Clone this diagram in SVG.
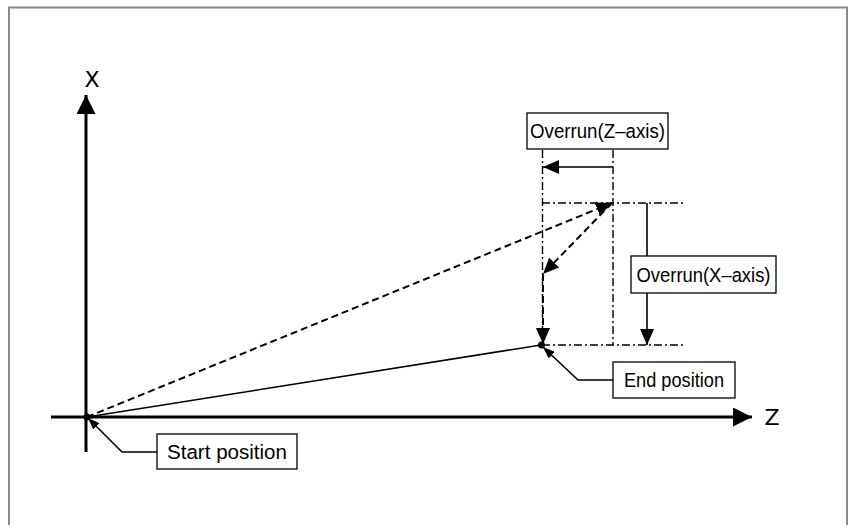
<svg xmlns="http://www.w3.org/2000/svg" width="848" height="525" viewBox="0 0 848 525">
<style>
.box{fill:#fff;stroke:#000;stroke-width:1.3}
.lbl{font-family:"Liberation Sans",Arial,sans-serif;font-size:20.5px;fill:#000;text-anchor:middle}
.ax{font-family:"DejaVu Sans","Liberation Sans",sans-serif;font-size:22px;fill:#000;text-anchor:middle}
.axis{stroke:#000;stroke-width:3;fill:none}
.solid{stroke:#000;stroke-width:1.6;fill:none}
.dash{stroke:#000;stroke-width:2;fill:none;stroke-dasharray:7 4}
.dd{stroke:#000;stroke-width:1.4;fill:none;stroke-dasharray:8 3 2 3}
</style>
<defs>
<marker id="big" viewBox="0 0 19 19" refX="19" refY="9.5" markerWidth="19" markerHeight="19" markerUnits="userSpaceOnUse" orient="auto"><path d="M0,0 L19,9.5 L0,19 z" fill="#000"/></marker>
<marker id="mid" viewBox="0 0 16 14" refX="16" refY="7" markerWidth="16" markerHeight="14" markerUnits="userSpaceOnUse" orient="auto"><path d="M0,0 L16,7 L0,14 z" fill="#000"/></marker>
<marker id="sm" viewBox="0 0 12 9" refX="12" refY="4.5" markerWidth="12" markerHeight="9" markerUnits="userSpaceOnUse" orient="auto"><path d="M0,0 L12,4.5 L0,9 z" fill="#000"/></marker>
</defs>
<rect x="9" y="7.5" width="838" height="530" fill="#fff" stroke="#888" stroke-width="2"/>
<g id="connectors">
<line class="axis" x1="86" y1="452" x2="86" y2="95" marker-end="url(#big)"/>
<line class="axis" x1="51" y1="417" x2="752" y2="417" marker-end="url(#big)"/>
<line class="dd" x1="542.5" y1="150" x2="542.5" y2="345"/>
<line class="dd" x1="613" y1="150" x2="613" y2="345"/>
<line class="dd" x1="542" y1="203" x2="684" y2="203"/>
<line class="dd" x1="542" y1="345" x2="684" y2="345"/>
<line class="solid" x1="87" y1="417" x2="541" y2="345"/>
<line class="dash" x1="87" y1="417" x2="612" y2="203" marker-end="url(#mid)"/>
<line class="dash" x1="612" y1="203" x2="543" y2="274" marker-end="url(#mid)"/>
<line class="dash" x1="543" y1="274" x2="543" y2="344" marker-end="url(#mid)"/>
<line class="solid" x1="613" y1="167" x2="543" y2="167" marker-end="url(#mid)"/>
<line class="solid" x1="647" y1="203" x2="647" y2="256"/>
<line class="solid" x1="647" y1="293" x2="647" y2="345" marker-end="url(#mid)"/>
<polyline class="solid" points="157,452 122,452 88,418" marker-end="url(#sm)"/>
<polyline class="solid" points="613,380 578,380 543,347" marker-end="url(#sm)"/>
<circle cx="87" cy="417" r="3.5" fill="#000"/>
<circle cx="541.5" cy="345" r="3.5" fill="#000"/>
</g>
<g id="axis-x"><text class="ax" x="92" y="87">X</text></g>
<g id="axis-z"><text class="ax" x="772" y="425">Z</text></g>
<g id="overrun-z"><rect class="box" x="527" y="113" width="141" height="36"/><text class="lbl" x="597.5" y="138" textLength="135" lengthAdjust="spacingAndGlyphs">Overrun(Z–axis)</text></g>
<g id="overrun-x"><rect class="box" x="631" y="256" width="145" height="37"/><text class="lbl" x="703.5" y="281.5" textLength="134" lengthAdjust="spacingAndGlyphs">Overrun(X–axis)</text></g>
<g id="end-position"><rect class="box" x="613" y="362" width="122" height="36"/><text class="lbl" x="674" y="387" textLength="100" lengthAdjust="spacingAndGlyphs">End position</text></g>
<g id="start-position"><rect class="box" x="157" y="434" width="140" height="35"/><text class="lbl" x="227" y="459" textLength="120" lengthAdjust="spacingAndGlyphs">Start position</text></g>
</svg>
